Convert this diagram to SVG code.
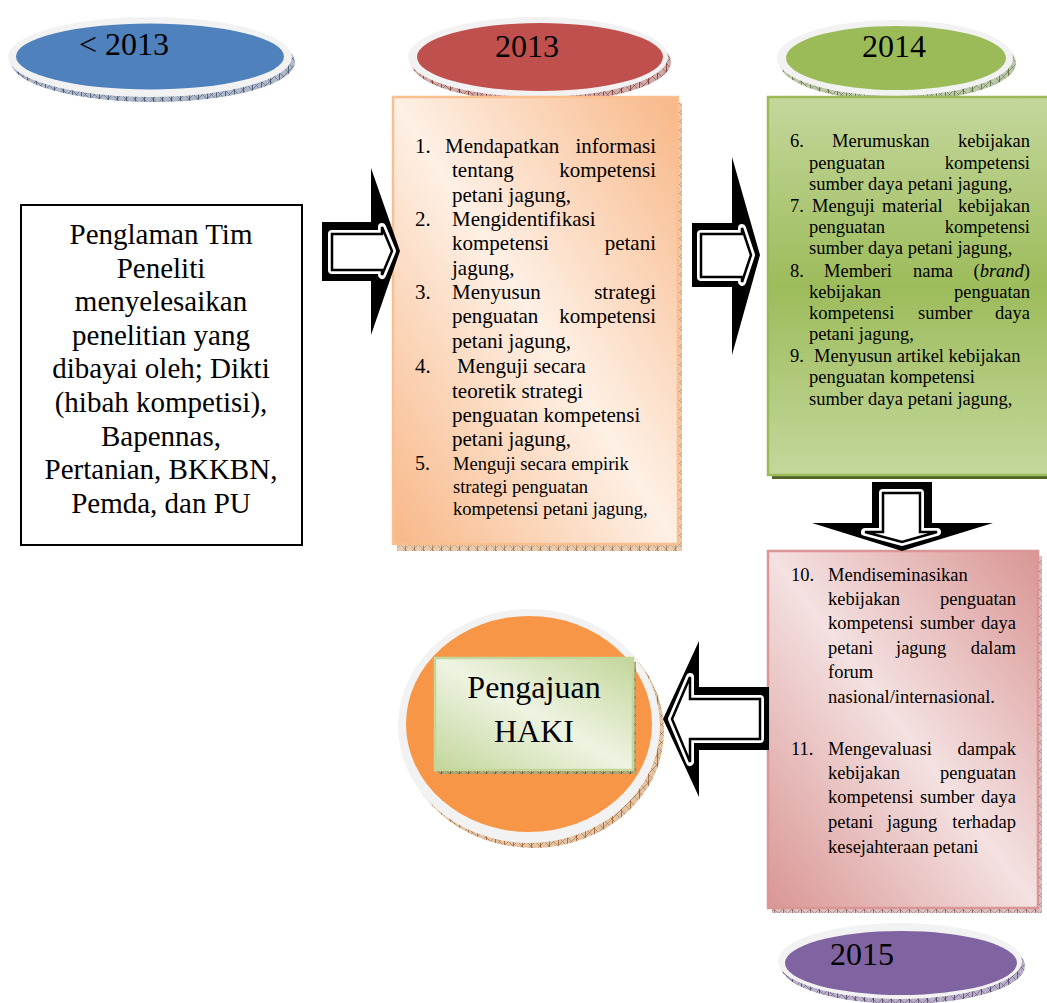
<svg xmlns="http://www.w3.org/2000/svg" width="1047" height="1003" viewBox="0 0 1047 1003">
<defs>
<style>
text{font-family:"Liberation Serif","Times New Roman",serif;fill:#000}
.yr{font-size:32px}
.lb{font-size:29px;text-anchor:middle}
.t21{font-size:21px}
.t18{font-size:18.5px}
.e{text-anchor:end}
.hk{font-size:32px;text-anchor:middle}
.ring{fill:#F2F2F2}
.ob{fill:#000}
.band{fill:#fff;stroke:#fff;stroke-width:8;stroke-linejoin:round}
.inn{fill:#fff;stroke:#000;stroke-width:2.5;stroke-linejoin:miter}
</style>
<pattern id="pBlue" width="9" height="9" patternUnits="userSpaceOnUse"><rect width="9" height="9" fill="#AEB8C9"/><path d="M0,0L9,9M9,0L0,9" stroke="#3B4D6B" stroke-width="0.5"/><path d="M0.5,0V9" stroke="#3B4D6B" stroke-width="0.8"/></pattern>
<pattern id="pRed" width="9" height="9" patternUnits="userSpaceOnUse"><rect width="9" height="9" fill="#CDA9A8"/><path d="M0,0L9,9M9,0L0,9" stroke="#7A2E2C" stroke-width="0.5"/><path d="M0.5,0V9" stroke="#7A2E2C" stroke-width="0.8"/></pattern>
<pattern id="pGreen" width="9" height="9" patternUnits="userSpaceOnUse"><rect width="9" height="9" fill="#BCC6A8"/><path d="M0,0L9,9M9,0L0,9" stroke="#55683A" stroke-width="0.5"/><path d="M0.5,0V9" stroke="#55683A" stroke-width="0.8"/></pattern>
<pattern id="pPurple" width="9" height="9" patternUnits="userSpaceOnUse"><rect width="9" height="9" fill="#B9AEC8"/><path d="M0,0L9,9M9,0L0,9" stroke="#4E3D66" stroke-width="0.5"/><path d="M0.5,0V9" stroke="#4E3D66" stroke-width="0.8"/></pattern>
<pattern id="pBrown" width="9" height="9" patternUnits="userSpaceOnUse"><rect width="9" height="9" fill="#E2C3A4"/><path d="M0,0L9,9M9,0L0,9" stroke="#9A5A2A" stroke-width="0.5"/><path d="M0.5,0V9" stroke="#9A5A2A" stroke-width="0.8"/></pattern>
<pattern id="pOrange" width="9" height="9" patternUnits="userSpaceOnUse"><rect width="9" height="9" fill="#E6CBB0"/><path d="M0,0L9,9M9,0L0,9" stroke="#A6754A" stroke-width="0.5"/><path d="M0.5,0V9" stroke="#A6754A" stroke-width="0.8"/></pattern>
<pattern id="pPink" width="9" height="9" patternUnits="userSpaceOnUse"><rect width="9" height="9" fill="#DBC2C2"/><path d="M0,0L9,9M9,0L0,9" stroke="#8E5B5A" stroke-width="0.5"/><path d="M0.5,0V9" stroke="#8E5B5A" stroke-width="0.8"/></pattern>
<pattern id="pOlive" width="9" height="9" patternUnits="userSpaceOnUse"><rect width="9" height="9" fill="#AFA57A"/><path d="M0,0L9,9M9,0L0,9" stroke="#5E5A2A" stroke-width="0.5"/><path d="M0.5,0V9" stroke="#5E5A2A" stroke-width="0.8"/></pattern>
<linearGradient id="gOrange" x1="1" y1="0" x2="0" y2="1"><stop offset="0" stop-color="#F8B787"/><stop offset="0.5" stop-color="#FEF0E5"/><stop offset="1" stop-color="#F8B787"/></linearGradient>
<linearGradient id="gPink" x1="1" y1="0" x2="0" y2="1"><stop offset="0" stop-color="#D99694"/><stop offset="0.5" stop-color="#F4E1E1"/><stop offset="1" stop-color="#D99694"/></linearGradient>
<linearGradient id="gHaki" x1="1" y1="0" x2="0" y2="1"><stop offset="0" stop-color="#C3D69B"/><stop offset="0.5" stop-color="#EEF4E2"/><stop offset="1" stop-color="#C3D69B"/></linearGradient>
<linearGradient id="gGreen" x1="0" y1="0" x2="0" y2="1"><stop offset="0" stop-color="#C4D79C"/><stop offset="0.5" stop-color="#9DBC5B"/><stop offset="1" stop-color="#C4D79C"/></linearGradient>
</defs>
<rect width="1047" height="1003" fill="#fff"/>

<g id="year-before-2013">
<ellipse cx="153" cy="62" rx="142" ry="40" fill="url(#pBlue)"/>
<ellipse cx="150" cy="57" rx="142" ry="40" class="ring"/>
<ellipse cx="150" cy="56.5" rx="134" ry="33" fill="#4F81BD"/>
<text class="yr" x="79" y="55">&lt; 2013</text>
</g>

<g id="year-2013">
<ellipse cx="541" cy="62" rx="130" ry="40" fill="url(#pRed)"/>
<ellipse cx="538" cy="57" rx="130" ry="40" class="ring"/>
<ellipse cx="540" cy="57" rx="123" ry="34" fill="#C0504D"/>
<text class="yr" x="527" y="57" text-anchor="middle">2013</text>
</g>

<g id="year-2014">
<ellipse cx="898" cy="63" rx="118" ry="38" fill="url(#pGreen)"/>
<ellipse cx="895" cy="58" rx="118" ry="38" class="ring"/>
<ellipse cx="896" cy="58" rx="110" ry="32" fill="#9BBB59"/>
<text class="yr" x="894" y="57" text-anchor="middle">2014</text>
</g>

<g id="year-2015">
<ellipse cx="903" cy="966" rx="122" ry="38" fill="url(#pPurple)"/>
<ellipse cx="900" cy="961" rx="122" ry="38" class="ring"/>
<ellipse cx="901" cy="963" rx="116" ry="32" fill="#8064A2"/>
<text class="yr" x="830" y="965">2015</text>
</g>

<g id="experience">
<rect x="21" y="205" width="281" height="340" fill="#fff" stroke="#000" stroke-width="2"/>
<text class="lb" x="161" y="244">Penglaman Tim</text>
<text class="lb" x="161" y="277.6">Peneliti</text>
<text class="lb" x="161" y="311.2">menyelesaikan</text>
<text class="lb" x="161" y="344.8">penelitian yang</text>
<text class="lb" x="161" y="378.4">dibayai oleh; Dikti</text>
<text class="lb" x="161" y="412">(hibah kompetisi),</text>
<text class="lb" x="161" y="445.6">Bapennas,</text>
<text class="lb" x="161" y="479.2">Pertanian, BKKBN,</text>
<text class="lb" x="161" y="512.8">Pemda, dan PU</text>
</g>

<g id="box-2013">
<rect x="397" y="103" width="285" height="448" fill="url(#pOrange)"/>
<rect x="393" y="97" width="285" height="447" fill="url(#gOrange)" stroke="#F9BF8F" stroke-width="2.5"/>
<text class="t21" x="415" y="153">1.</text>
<text class="t21" x="445" y="153">Mendapatkan</text>
<text class="t21 e" x="656" y="153">informasi</text>
<text class="t21" x="452" y="177.3">tentang</text>
<text class="t21 e" x="656" y="177.3">kompetensi</text>
<text class="t21" x="452" y="201.6">petani jagung,</text>
<text class="t21" x="415" y="226">2.</text>
<text class="t21" x="452" y="226">Mengidentifikasi</text>
<text class="t21" x="452" y="250.3">kompetensi</text>
<text class="t21 e" x="656" y="250.3">petani</text>
<text class="t21" x="452" y="274.6">jagung,</text>
<text class="t21" x="415" y="299">3.</text>
<text class="t21" x="452" y="299">Menyusun</text>
<text class="t21 e" x="656" y="299">strategi</text>
<text class="t21" x="452" y="323.3">penguatan</text>
<text class="t21 e" x="656" y="323.3">kompetensi</text>
<text class="t21" x="452" y="347.6">petani jagung,</text>
<text class="t21" x="415" y="373">4.</text>
<text class="t21" x="457" y="373">Menguji secara</text>
<text class="t21" x="452" y="397.5">teoretik strategi</text>
<text class="t21" x="452" y="421.8">penguatan kompetensi</text>
<text class="t21" x="452" y="446">petani jagung,</text>
<text class="t21" x="415" y="470" style="font-size:20px">5.</text>
<text class="t18" x="453" y="470">Menguji secara empirik</text>
<text class="t18" x="453" y="493">strategi penguatan</text>
<text class="t18" x="453" y="515">kompetensi petani jagung,</text>
</g>

<g id="box-2014">
<rect x="772" y="101" width="290" height="378" fill="#4F6228"/>
<rect x="768" y="97" width="290" height="378" fill="url(#gGreen)" stroke="#9BBB59" stroke-width="2.5"/>
<text class="t18" x="790" y="147">6.</text>
<text class="t18" x="832" y="147">Merumuskan</text>
<text class="t18 e" x="1030" y="147">kebijakan</text>
<text class="t18" x="809" y="169">penguatan</text>
<text class="t18 e" x="1030" y="169">kompetensi</text>
<text class="t18" x="809" y="190">sumber daya petani jagung,</text>
<text class="t18" x="790" y="212">7.</text>
<text class="t18" x="812" y="212">Menguji</text>
<text class="t18" x="882" y="212">material</text>
<text class="t18 e" x="1030" y="212">kebijakan</text>
<text class="t18" x="809" y="233">penguatan</text>
<text class="t18 e" x="1030" y="233">kompetensi</text>
<text class="t18" x="809" y="254">sumber daya petani jagung,</text>
<text class="t18" x="790" y="277">8.</text>
<text class="t18" x="824" y="277">Memberi</text>
<text class="t18" x="913" y="277">nama</text>
<text class="t18 e" x="1030" y="277">(<tspan font-style="italic">brand</tspan>)</text>
<text class="t18" x="809" y="298">kebijakan</text>
<text class="t18 e" x="1030" y="298">penguatan</text>
<text class="t18" x="809" y="319">kompetensi</text>
<text class="t18" x="918" y="319">sumber</text>
<text class="t18 e" x="1030" y="319">daya</text>
<text class="t18" x="809" y="340">petani jagung,</text>
<text class="t18" x="790" y="362">9.</text>
<text class="t18" x="814" y="362">Menyusun artikel kebijakan</text>
<text class="t18" x="809" y="383">penguatan kompetensi</text>
<text class="t18" x="809" y="405">sumber daya petani jagung,</text>
</g>

<g id="box-2015">
<rect x="772" y="556" width="270" height="357" fill="url(#pPink)"/>
<rect x="768" y="551" width="270" height="357" fill="url(#gPink)" stroke="#D99694" stroke-width="2.5"/>
<text class="t18" x="791" y="581">10.</text>
<text class="t18" x="828" y="581">Mendiseminasikan</text>
<text class="t18" x="828" y="605">kebijakan</text>
<text class="t18 e" x="1016" y="605">penguatan</text>
<text class="t18" x="828" y="629">kompetensi</text>
<text class="t18" x="920" y="629">sumber</text>
<text class="t18 e" x="1016" y="629">daya</text>
<text class="t18" x="828" y="654">petani</text>
<text class="t18" x="896" y="654">jagung</text>
<text class="t18 e" x="1016" y="654">dalam</text>
<text class="t18" x="828" y="678">forum</text>
<text class="t18" x="828" y="703">nasional/internasional.</text>
<text class="t18" x="791" y="755">11.</text>
<text class="t18" x="828" y="755">Mengevaluasi</text>
<text class="t18 e" x="1016" y="755">dampak</text>
<text class="t18" x="828" y="779">kebijakan</text>
<text class="t18 e" x="1016" y="779">penguatan</text>
<text class="t18" x="828" y="803">kompetensi</text>
<text class="t18" x="920" y="803">sumber</text>
<text class="t18 e" x="1016" y="803">daya</text>
<text class="t18" x="828" y="828">petani</text>
<text class="t18" x="887" y="828">jagung</text>
<text class="t18 e" x="1016" y="828">terhadap</text>
<text class="t18" x="828" y="853">kesejahteraan petani</text>
</g>

<g id="haki">
<ellipse cx="533" cy="731" rx="131" ry="117" fill="url(#pBrown)"/>
<ellipse cx="529" cy="726" rx="131" ry="117" class="ring"/>
<ellipse cx="529" cy="724" rx="123" ry="108" fill="#F79646"/>
<rect x="438" y="662" width="198" height="112" fill="url(#pOlive)"/>
<rect x="435" y="658" width="198" height="112" fill="url(#gHaki)" stroke="#C3D69B" stroke-width="2.5"/>
<text class="hk" x="534" y="698">Pengajuan</text>
<text class="hk" x="534" y="742">HAKI</text>
</g>

<g id="connectors">
<g id="arrow-experience-2013">
<polygon class="ob" points="322,222 371,222 371,168 400,251 371,335 371,281 322,281"/>
<polygon class="band" points="332,234 382,234 382,227 392,251 382,275 382,270 332,270"/>
<polygon class="inn" points="332,234 382,234 382,227 392,251 382,275 382,270 332,270"/>
</g>
<g id="arrow-2013-2014">
<polygon class="ob" points="692,223 732,223 732,157 760,255 732,355 732,287 692,287"/>
<polygon class="band" points="701,234 742,234 742,228 751,255 742,282 742,277 701,277"/>
<polygon class="inn" points="701,234 742,234 742,228 751,255 742,282 742,277 701,277"/>
</g>
<g id="arrow-2014-2015">
<polygon class="ob" points="872,482 932,482 932,523 993,523 902,551 812,523 872,523"/>
<polygon class="band" points="883,493 920,493 920,532 937,532 902,542 865,532 883,532"/>
<polygon class="inn" points="883,493 920,493 920,532 937,532 902,542 865,532 883,532"/>
</g>
<g id="arrow-2015-haki">
<polygon class="ob" points="769,687 699,687 699,641 663,719 699,797 699,750 769,750"/>
<polygon class="band" points="760,699 690,699 690,677 672,719 690,762 690,739 760,739"/>
<polygon class="inn" points="760,699 690,699 690,677 672,719 690,762 690,739 760,739"/>
</g>
</g>
</svg>
